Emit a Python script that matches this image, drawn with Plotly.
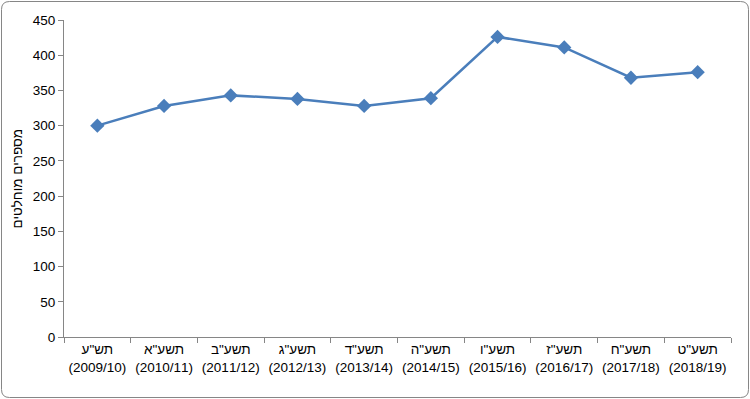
import plotly.graph_objects as go

years_he = ['תש"ע', 'תשע"א', 'תשע"ב', 'תשע"ג', 'תשע"ד', 'תשע"ה', 'תשע"ו', 'תשע"ז', 'תשע"ח', 'תשע"ט']
years_greg = ['(2009/10)', '(2010/11)', '(2011/12)', '(2012/13)', '(2013/14)',
              '(2014/15)', '(2015/16)', '(2016/17)', '(2017/18)', '(2018/19)']
values = [300, 328, 343, 338, 328, 339, 426, 411, 368, 376]
y_ticks = [0, 50, 100, 150, 200, 250, 300, 350, 400, 450]

categories = [f"{h}<br>{g}" for h, g in zip(years_he, years_greg)]

W, H = 750, 399
ml, mr, mt, mb = 64, 19, 20, 62
pw, ph = W - ml - mr, H - mt - mb

fig = go.Figure()
fig.add_trace(go.Scatter(
    x=categories, y=values, mode="lines+markers",
    line=dict(color="#4A7EBB", width=2.5),
    marker=dict(symbol="diamond", size=11, color="#4A7EBB"),
    showlegend=False,
))

def px_to_paper_x(px):
    return (px - ml) / pw

def px_to_paper_y(py):
    return (H - mb - py) / ph

x0, x1, y0, y1, r = 1.5, 748.5, 1.5, 397.5, 8
path = (
    f"M {px_to_paper_x(x0 + r)},{px_to_paper_y(y0)} "
    f"L {px_to_paper_x(x1 - r)},{px_to_paper_y(y0)} "
    f"Q {px_to_paper_x(x1)},{px_to_paper_y(y0)} {px_to_paper_x(x1)},{px_to_paper_y(y0 + r)} "
    f"L {px_to_paper_x(x1)},{px_to_paper_y(y1 - r)} "
    f"Q {px_to_paper_x(x1)},{px_to_paper_y(y1)} {px_to_paper_x(x1 - r)},{px_to_paper_y(y1)} "
    f"L {px_to_paper_x(x0 + r)},{px_to_paper_y(y1)} "
    f"Q {px_to_paper_x(x0)},{px_to_paper_y(y1)} {px_to_paper_x(x0)},{px_to_paper_y(y1 - r)} "
    f"L {px_to_paper_x(x0)},{px_to_paper_y(y0 + r)} "
    f"Q {px_to_paper_x(x0)},{px_to_paper_y(y0)} {px_to_paper_x(x0 + r)},{px_to_paper_y(y0)} Z"
)

fs = 13.5
fig.update_layout(
    width=W, height=H,
    margin=dict(l=ml, r=mr, t=mt, b=mb, autoexpand=False),
    paper_bgcolor="white", plot_bgcolor="white",
    font=dict(family="Liberation Sans, Arial, sans-serif", size=fs, color="#000000"),
    shapes=[dict(type="path", path=path, xref="paper", yref="paper",
                 line=dict(color="#868686", width=1), layer="below")],
    annotations=[dict(text="מספרים מוחלטים", xref="paper", yref="paper",
                      x=px_to_paper_x(17), y=0.5, textangle=-90, showarrow=False,
                      xanchor="center", yanchor="middle",
                      font=dict(size=fs, color="#000000"))],
    xaxis=dict(
        range=[-0.5, len(categories) - 0.5], tickangle=0,
        showgrid=False, showline=True, linecolor="#868686", linewidth=1,
        ticks="outside", tickson="boundaries", ticklen=5, tickcolor="#868686",
        tickfont=dict(size=fs, color="#000000"), zeroline=False, automargin=False,
    ),
    yaxis=dict(
        range=[0, 450], tickvals=y_ticks, showgrid=False, showline=True,
        linecolor="#868686", linewidth=1, ticks="outside", ticklen=5,
        tickcolor="#868686", tickfont=dict(size=fs, color="#000000"),
        zeroline=False, automargin=False,
    ),
)

fig.write_html("out.html", config={"displayModeBar": False, "responsive": False})

with open("out.html", "r", encoding="utf-8") as f:
    html = f.read()
html = html.replace("<body>", '<body style="margin:0;overflow:hidden;">', 1)
with open("out.html", "w", encoding="utf-8") as f:
    f.write(html)
